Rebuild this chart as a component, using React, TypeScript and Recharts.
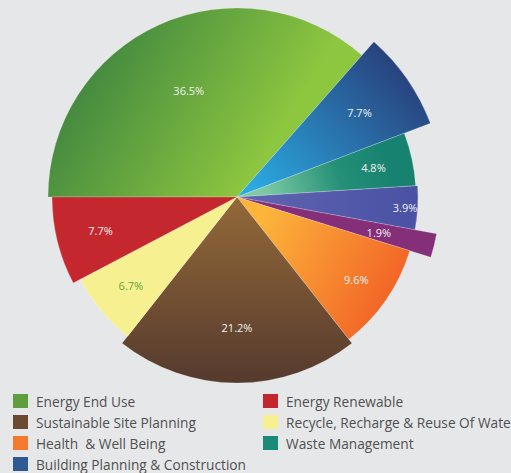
import { PieChart, Pie, Cell, Legend } from "recharts";

// slices, clockwise from 9 o'clock
const sliceNames = [
  "Energy End Use",
  "Building Planning & Construction",
  "Waste Management",
  "Other A",
  "Other B",
  "Health  & Well Being",
  "Sustainable Site Planning",
  "Recycle, Recharge & Reuse Of Water",
  "Energy Renewable",
];
const sliceShares = [36.5, 7.7, 4.8, 3.9, 1.9, 9.6, 21.2, 6.7, 7.7];

const legendNames = [
  "Energy End Use",
  "Energy Renewable",
  "Sustainable Site Planning",
  "Recycle, Recharge & Reuse Of Water",
  "Health  & Well Being",
  "Waste Management",
  "Building Planning & Construction",
];
const legendColors = ["#5f9e3f", "#c4262d", "#6b4a31", "#f6f08e", "#f47a30", "#1b8a76", "#2d5a92"];

// drawing styles per slice
const fills = [
  "url(#gGreen)",
  "url(#gBlue)",
  "url(#gTeal)",
  "url(#gIndigo)",
  "#842f78",
  "url(#gOrange)",
  "url(#gBrown)",
  "#f7f091",
  "#c4282e",
];
const radii = [189, 207, 179, 181, 203, 181, 186, 177, 185];
const labelFrac = [0.62, 0.72, 0.78, 0.93, 0.72, 0.8, 0.7, 0.78, 0.76];
const labelColors = ["#f2f2f2", "#f2f2f2", "#f2f2f2", "#f2f2f2", "#f2f2f2", "#f2f2f2", "#f2f2f2", "#5ea53f", "#f2f2f2"];

const CX = 237;
const CY = 197;
const RAD = Math.PI / 180;
const FONT = "'Open Sans', 'DejaVu Sans', sans-serif";

function LegendBox() {
  return (
    <div
      style={{
        display: "grid",
        gridTemplateColumns: "250px 250px",
        rowGap: 3,
        fontFamily: FONT,
        fontSize: 13.7,
        color: "#505050",
        whiteSpace: "pre",
      }}
    >
      {legendNames.map((n, i) => (
        <div key={n} style={{ display: "flex", alignItems: "center", height: 18 }}>
          <span
            style={{
              width: 15,
              height: 14,
              flexShrink: 0,
              background: legendColors[i],
              marginRight: 8,
              display: "inline-block",
            }}
          />
          <span>{n}</span>
        </div>
      ))}
    </div>
  );
}

export default function App() {
  let cum = 0;
  const pies = sliceShares.map((v, i) => {
    const start = 180 - cum * 3.6;
    cum += v;
    const end = 180 - cum * 3.6;
    return { v, i, start, end };
  });

  return (
    <div style={{ position: "fixed", left: 0, top: 0, width: 511, height: 473, background: "#e6e7e9", overflow: "hidden" }}>
      <PieChart width={511} height={473} margin={{ top: 0, right: 0, bottom: 0, left: 0 }}>
        <defs>
          <linearGradient id="gGreen" gradientUnits="userSpaceOnUse" x1={70} y1={70} x2={250} y2={180}>
            <stop offset="0" stopColor="#3e8540" />
            <stop offset="1" stopColor="#8dc63f" />
          </linearGradient>
          <linearGradient id="gBlue" gradientUnits="userSpaceOnUse" x1={250} y1={185} x2={400} y2={45}>
            <stop offset="0" stopColor="#2aa9e0" />
            <stop offset="1" stopColor="#283a75" />
          </linearGradient>
          <linearGradient id="gTeal" gradientUnits="userSpaceOnUse" x1={262} y1={192} x2={385} y2={150}>
            <stop offset="0" stopColor="#7fcca4" />
            <stop offset="0.6" stopColor="#259077" />
            <stop offset="1" stopColor="#17826f" />
          </linearGradient>
          <linearGradient id="gIndigo" gradientUnits="userSpaceOnUse" x1={250} y1={197} x2={410} y2={197}>
            <stop offset="0" stopColor="#6064b0" />
            <stop offset="1" stopColor="#4a52a5" />
          </linearGradient>
          <linearGradient id="gOrange" gradientUnits="userSpaceOnUse" x1={265} y1={215} x2={400} y2={290}>
            <stop offset="0" stopColor="#fcb43b" />
            <stop offset="1" stopColor="#f26226" />
          </linearGradient>
          <linearGradient id="gBrown" gradientUnits="userSpaceOnUse" x1={0} y1={205} x2={0} y2={382}>
            <stop offset="0" stopColor="#916738" />
            <stop offset="1" stopColor="#553a2e" />
          </linearGradient>
        </defs>
        {pies.map(({ v, i, start, end }) => (
          <Pie
            key={sliceNames[i]}
            data={[{ name: sliceNames[i], value: v }]}
            dataKey="value"
            nameKey="name"
            cx={CX}
            cy={CY}
            innerRadius={0}
            outerRadius={radii[i]}
            startAngle={start}
            endAngle={end}
            stroke="#ffffff"
            strokeOpacity={0.35}
            strokeWidth={0.6}
            isAnimationActive={false}
            labelLine={false}
            label={(p: any) => {
              const r = radii[i] * labelFrac[i];
              const x = CX + r * Math.cos(-p.midAngle * RAD);
              const y = CY + r * Math.sin(-p.midAngle * RAD);
              return (
                <text
                  x={x}
                  y={y}
                  fill={labelColors[i]}
                  fontFamily={FONT}
                  fontSize={11}
                  textAnchor="middle"
                  dominantBaseline="central"
                >
                  {`${v}%`}
                </text>
              );
            }}
          >
            <Cell fill={fills[i]} />
          </Pie>
        ))}
        <Legend
          content={() => <LegendBox />}
          wrapperStyle={{ position: "absolute", left: 13, top: 392, width: 500, height: 80 }}
        />
      </PieChart>
    </div>
  );
}
